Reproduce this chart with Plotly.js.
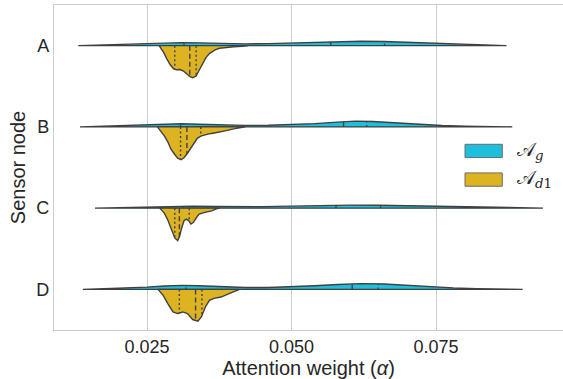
<!DOCTYPE html>
<html>
<head>
<meta charset="utf-8">
<script src="https://cdn.plot.ly/plotly-3.0.1.min.js"></script>
<style>html,body{margin:0;padding:0;background:#fff;}#chart{width:563px;height:379px;}</style>
</head>
<body>
<div id="chart"></div>
<script>
// ---- data ----
const sensors = ['A', 'B', 'C', 'D'];
const groupNames = ['𝒜<sub><i>g</i></sub>', '𝒜<sub><i>d</i>1</sub>'];
const xTickVals = [0.025, 0.05, 0.075];
const xTickText = ['0.025', '0.050', '0.075'];

// A_g (upper half) density outlines per sensor: grid values and density heights
const agA_x = [0.0131, 0.016, 0.020, 0.025, 0.028, 0.031, 0.034, 0.038, 0.042, 0.046, 0.050, 0.054, 0.058, 0.062, 0.066, 0.070, 0.074, 0.078, 0.082, 0.0872];
const agA_d = [0, 0.5, 1.0, 1.8, 2.5, 3.0, 2.8, 2.2, 1.8, 2.0, 2.6, 3.4, 4.1, 4.4, 4.2, 3.3, 2.2, 1.3, 0.6, 0];
const agB_x = [0.0134, 0.016, 0.020, 0.025, 0.028, 0.031, 0.034, 0.038, 0.042, 0.046, 0.050, 0.054, 0.058, 0.061, 0.064, 0.068, 0.072, 0.076, 0.080, 0.084, 0.0882];
const agB_d = [0, 0.4, 0.9, 1.8, 2.6, 3.1, 2.7, 2.0, 1.5, 1.6, 2.2, 3.3, 4.8, 5.8, 5.4, 3.9, 2.5, 1.4, 0.8, 0.4, 0];
const agC_x = [0.0160, 0.019, 0.023, 0.027, 0.030, 0.033, 0.037, 0.041, 0.045, 0.050, 0.055, 0.060, 0.065, 0.070, 0.075, 0.080, 0.085, 0.090, 0.0935];
const agC_d = [0, 0.4, 0.9, 1.6, 2.1, 2.0, 1.6, 1.4, 1.5, 2.0, 2.6, 3.0, 2.9, 2.3, 1.5, 0.9, 0.5, 0.2, 0];
const agD_x = [0.0139, 0.017, 0.021, 0.025, 0.028, 0.031, 0.034, 0.038, 0.042, 0.046, 0.050, 0.054, 0.058, 0.062, 0.066, 0.070, 0.074, 0.078, 0.082, 0.086, 0.0900];
const agD_d = [0, 0.5, 1.2, 2.3, 3.4, 4.0, 3.6, 2.6, 1.9, 1.9, 2.6, 3.7, 4.9, 5.8, 5.4, 4.0, 2.6, 1.5, 0.8, 0.3, 0];

// A_d1 (lower half) density outlines per sensor
const adA_x = [0.0271, 0.0279, 0.0284, 0.0290, 0.0296, 0.0301, 0.0307, 0.0313, 0.0318, 0.0324, 0.0329, 0.0335, 0.0340, 0.0346, 0.0352, 0.0358, 0.0367, 0.0375, 0.0386, 0.0400, 0.0415, 0.0425];
const adA_d = [0, 7, 13, 19, 23.3, 24.3, 24, 25.5, 28, 31, 32.3, 30.5, 25, 19, 12, 8, 4.5, 2.7, 1.8, 1.3, 0.6, 0];
const adB_x = [0.0268, 0.0274, 0.0280, 0.0286, 0.0291, 0.0297, 0.0303, 0.0309, 0.0314, 0.0320, 0.0326, 0.0332, 0.0337, 0.0343, 0.0349, 0.0355, 0.0364, 0.0375, 0.0387, 0.0400, 0.0410, 0.0420];
const adB_d = [0, 4, 9, 15, 22, 27, 31.5, 33, 31, 26.5, 21, 15.5, 11.5, 9.3, 8.2, 7.3, 6.4, 5.5, 3.8, 2.0, 0.8, 0];
const adC_x = [0.0272, 0.0280, 0.0286, 0.0292, 0.0298, 0.0303, 0.0306, 0.0310, 0.0314, 0.0318, 0.0322, 0.0326, 0.0330, 0.0335, 0.0340, 0.0350, 0.0362, 0.0370, 0.0375];
const adC_d = [0, 5, 12, 22, 30, 32.7, 29, 20, 12.7, 11, 12.5, 16, 14.5, 10, 6, 4.3, 2.7, 0.8, 0];
const adD_x = [0.0269, 0.0278, 0.0286, 0.0295, 0.0303, 0.0312, 0.0320, 0.0329, 0.0338, 0.0344, 0.0351, 0.0358, 0.0366, 0.0378, 0.0392, 0.0404, 0.0410];
const adD_d = [0, 6, 14.3, 22.7, 24.3, 22.7, 24.3, 30.3, 32, 27.7, 17.7, 11, 9, 7.7, 4.3, 1, 0];

// quartiles [Q1, median, Q3]
const agQ = [[0.0314, 0.0568, 0.0661], [0.0308, 0.0590, 0.0630], [0.0312, 0.0577, 0.0654], [0.0317, 0.0605, 0.0650]];
const adQ = [[0.0298, 0.0324, 0.0335], [0.0308, 0.0319, 0.0343], [0.0298, 0.0306, 0.0323], [0.0306, 0.0334, 0.0345]];

const agX = [agA_x, agB_x, agC_x, agD_x];
const agD = [agA_d, agB_d, agC_d, agD_d];
const adX = [adA_x, adB_x, adC_x, adD_x];
const adD = [adA_d, adB_d, adC_d, adD_d];

// ---- styling ----
const colors = ['#1dbfdd', '#ddb321'];
const edge = '#404040';
const densScale = 1 / 81.67; // density units -> category units

function interp(xs, ds, q) {
  for (let i = 0; i < xs.length - 1; i++) {
    if (q >= xs[i] && q <= xs[i + 1]) {
      const t = (q - xs[i]) / (xs[i + 1] - xs[i]);
      return ds[i] + t * (ds[i + 1] - ds[i]);
    }
  }
  return 0;
}

const traces = [];
sensors.forEach((s, k) => {
  [[agX[k], agD[k], -1, 0, agQ[k]], [adX[k], adD[k], 1, 1, adQ[k]]].forEach(([xs, ds, sign, gi, qs]) => {
    const px = xs.concat(xs.slice().reverse());
    const py = ds.map(d => k + sign * d * densScale).concat(xs.map(() => k));
    px.push(xs[0]); py.push(k);
    traces.push({
      type: 'scatter', mode: 'lines', x: px, y: py, fill: 'toself', fillcolor: colors[gi],
      line: {color: edge, width: 1.4}, name: groupNames[gi],
      showlegend: false, hoverinfo: 'skip'
    });
    qs.forEach((q, qi) => {
      const d = interp(xs, ds, q);
      traces.push({
        type: 'scatter', mode: 'lines', x: [q, q], y: [k, k + sign * d * densScale],
        line: {color: edge, width: 1.4, dash: qi === 1 ? '5px,3px' : '2px,2.5px'},
        showlegend: false, hoverinfo: 'skip'
      });
    });
  });
});

// legend drawn as boxes + labels (paper coordinates)
const legBoxes = [[0.5306, 0.5714], [0.4424, 0.4833]];
const legTextY = [0.552, 0.466];
const shapes = groupNames.map((g, i) => ({
  type: 'rect', xref: 'paper', yref: 'paper', x0: 0.8075, x1: 0.8807,
  y0: legBoxes[i][0], y1: legBoxes[i][1], fillcolor: colors[i],
  line: {color: '#6a6a6a', width: 1}
}));
const annotations = groupNames.map((g, i) => ({
  xref: 'paper', yref: 'paper', x: 0.905, y: legTextY[i], xanchor: 'left', yanchor: 'middle',
  text: g, showarrow: false, font: {size: 19, family: 'DejaVu Serif, serif', color: '#262626'}
}));

const font = 'Liberation Sans, Arial, sans-serif';
const layout = {
  width: 563, height: 379,
  margin: {l: 54, r: 0, t: 4.5, b: 49},
  paper_bgcolor: '#ffffff', plot_bgcolor: '#ffffff',
  showlegend: false,
  font: {family: font, color: '#262626', size: 16},
  shapes: shapes, annotations: annotations,
  xaxis: {
    range: [0.00891, 0.09697], tickvals: xTickVals, ticktext: xTickText,
    showgrid: true, gridcolor: '#cccccc', gridwidth: 1,
    zeroline: false, showline: true, mirror: true, linecolor: '#cccccc', linewidth: 1.25,
    ticks: '', tickfont: {size: 18, family: font, color: '#262626'},
    title: {text: 'Attention weight (<i>α</i>)', font: {size: 20, family: font, color: '#262626'}, standoff: 4}
  },
  yaxis: {
    range: [3.5, -0.5], tickvals: [0, 1, 2, 3], ticktext: sensors,
    showgrid: false, zeroline: false, showline: true, linecolor: '#cccccc', linewidth: 1.25,
    ticks: '', tickfont: {size: 18, family: font, color: '#262626'},
    title: {text: 'Sensor node', font: {size: 20, family: font, color: '#262626'}, standoff: 5}
  }
};

Plotly.newPlot('chart', traces, layout, {displayModeBar: false, staticPlot: true});
</script>
</body>
</html>
